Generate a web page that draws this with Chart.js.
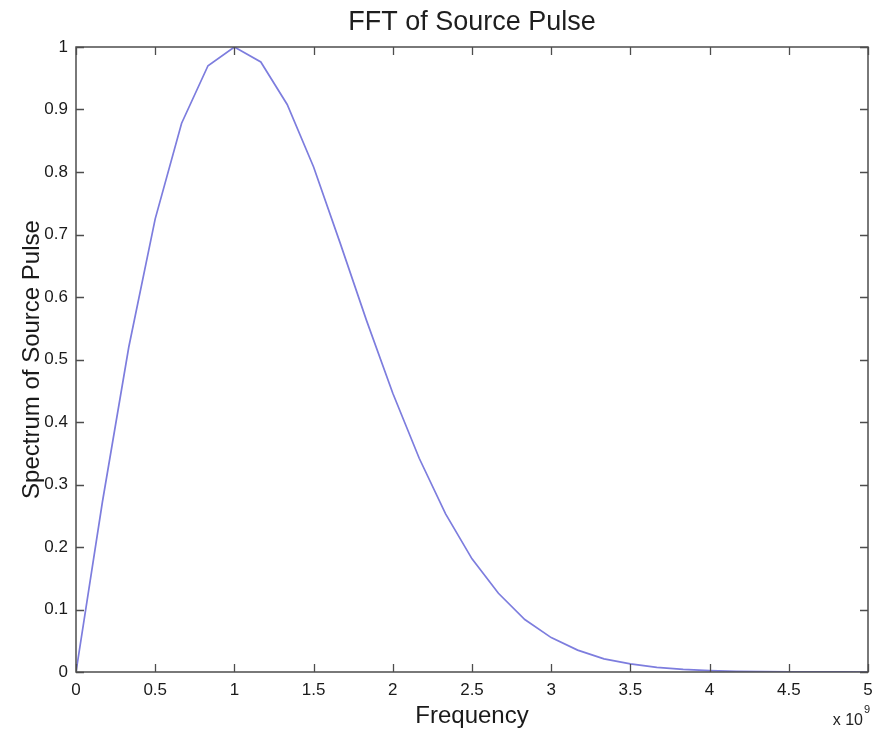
<!DOCTYPE html>
<html><head><meta charset="utf-8">
<script src="https://cdn.jsdelivr.net/npm/chart.js@4.4.1/dist/chart.umd.min.js"></script>
<style>html,body{margin:0;padding:0;background:#fff}#wrap{width:888px;height:731px}</style>
</head><body><div id="wrap"><canvas id="c" width="888" height="731"></canvas></div>
<script>
// Frequency (units of 1e9 Hz)
const frequencies = [0, 0.1667, 0.3333, 0.5, 0.6667, 0.8333, 1.0, 1.1667, 1.3333, 1.5,
  1.6667, 1.8333, 2.0, 2.1667, 2.3333, 2.5, 2.6667, 2.8333, 3.0, 3.1667,
  3.3333, 3.5, 3.6667, 3.8333, 4.0, 4.1667, 4.3333, 4.5, 4.6667, 4.8333, 5.0];
// Normalised spectrum
const spectrum = [0, 0.272, 0.52, 0.725, 0.878, 0.970, 1.0, 0.976, 0.908, 0.808,
  0.687, 0.563, 0.446, 0.342, 0.253, 0.181, 0.126, 0.084, 0.055, 0.035,
  0.021, 0.013, 0.0073, 0.0041, 0.0022, 0.0012, 0.0006, 0.0003, 0.0001, 0.0001, 0];
const xTicks = [0, 0.5, 1, 1.5, 2, 2.5, 3, 3.5, 4, 4.5, 5];
const yTicks = [0, 0.1, 0.2, 0.3, 0.4, 0.5, 0.6, 0.7, 0.8, 0.9, 1];
const titleText = 'FFT of Source Pulse';
const xLabel = 'Frequency';
const yLabel = 'Spectrum of Source Pulse';

const FONT = '"Liberation Sans", Arial, Helvetica, sans-serif';

const boxTicks = {
  id: 'boxTicks',
  afterDatasetsDraw(chart) {
    const {ctx, chartArea: a, scales: {x, y}} = chart;
    ctx.save();
    ctx.strokeStyle = '#4d4d4d';
    ctx.lineWidth = 1.5;
    ctx.strokeRect(a.left, a.top, a.right - a.left, a.bottom - a.top);
    ctx.lineWidth = 1.3;
    ctx.beginPath();
    const L = 8;
    xTicks.forEach(v => {
      const px = Math.round(x.getPixelForValue(v)) + 0.5;
      ctx.moveTo(px, a.bottom); ctx.lineTo(px, a.bottom - L);
      ctx.moveTo(px, a.top); ctx.lineTo(px, a.top + L);
    });
    yTicks.forEach(v => {
      const py = Math.round(y.getPixelForValue(v)) + 0.5;
      ctx.moveTo(a.left, py); ctx.lineTo(a.left + L, py);
      ctx.moveTo(a.right, py); ctx.lineTo(a.right - L, py);
    });
    ctx.stroke();
    // title centred over the plot area
    ctx.fillStyle = '#1e1e1e';
    ctx.textAlign = 'center';
    ctx.textBaseline = 'middle';
    ctx.font = '27px ' + FONT;
    ctx.fillText(titleText, (a.left + a.right) / 2, 23);
    // exponent label
    ctx.fillStyle = '#222';
    ctx.textBaseline = 'alphabetic';
    ctx.textAlign = 'right';
    ctx.font = '16px ' + FONT;
    ctx.fillText('x 10', 863, 725);
    ctx.textAlign = 'left';
    ctx.font = '11px ' + FONT;
    ctx.fillText('9', 864, 713);
    ctx.restore();
  }
};

new Chart(document.getElementById('c'), {
  type: 'line',
  data: {
    datasets: [{
      data: frequencies.map((f, i) => ({x: f, y: spectrum[i]})),
      borderColor: 'rgb(125,125,222)',
      borderWidth: 1.7,
      pointRadius: 0,
      tension: 0,
      fill: false
    }]
  },
  options: {
    responsive: false,
    animation: false,
    devicePixelRatio: 1,
    layout: {padding: {left: 0, right: 20, top: 47, bottom: 0}},
    plugins: {
      legend: {display: false},
      tooltip: {enabled: false},
      title: {display: false}
    },
    scales: {
      x: {
        type: 'linear',
        min: 0, max: 5,
        grid: {display: false, drawTicks: false},
        border: {display: false},
        afterBuildTicks: s => { s.ticks = xTicks.map(v => ({value: v})); },
        afterFit: s => { s.height = 59; },
        ticks: {
          color: '#1a1a1a', padding: 8,
          font: {family: FONT, size: 17},
          maxRotation: 0, autoSkip: false,
          callback: v => String(v)
        },
        title: {
          display: true, text: xLabel, color: '#1a1a1a',
          font: {family: FONT, size: 24, lineHeight: 1.2},
          padding: {top: 0, bottom: 0}
        }
      },
      y: {
        min: 0, max: 1,
        grid: {display: false, drawTicks: false},
        border: {display: false},
        afterBuildTicks: s => { s.ticks = yTicks.map(v => ({value: v})); },
        afterFit: s => { s.width = 76; },
        ticks: {
          color: '#1a1a1a', padding: 8,
          font: {family: FONT, size: 17},
          autoSkip: false,
          callback: v => String(v)
        },
        title: {
          display: true, text: yLabel, color: '#1a1a1a',
          font: {family: FONT, size: 24, lineHeight: 1.2},
          padding: {top: 18, bottom: 0}
        }
      }
    }
  },
  plugins: [boxTicks]
});
</script>
</body></html>
